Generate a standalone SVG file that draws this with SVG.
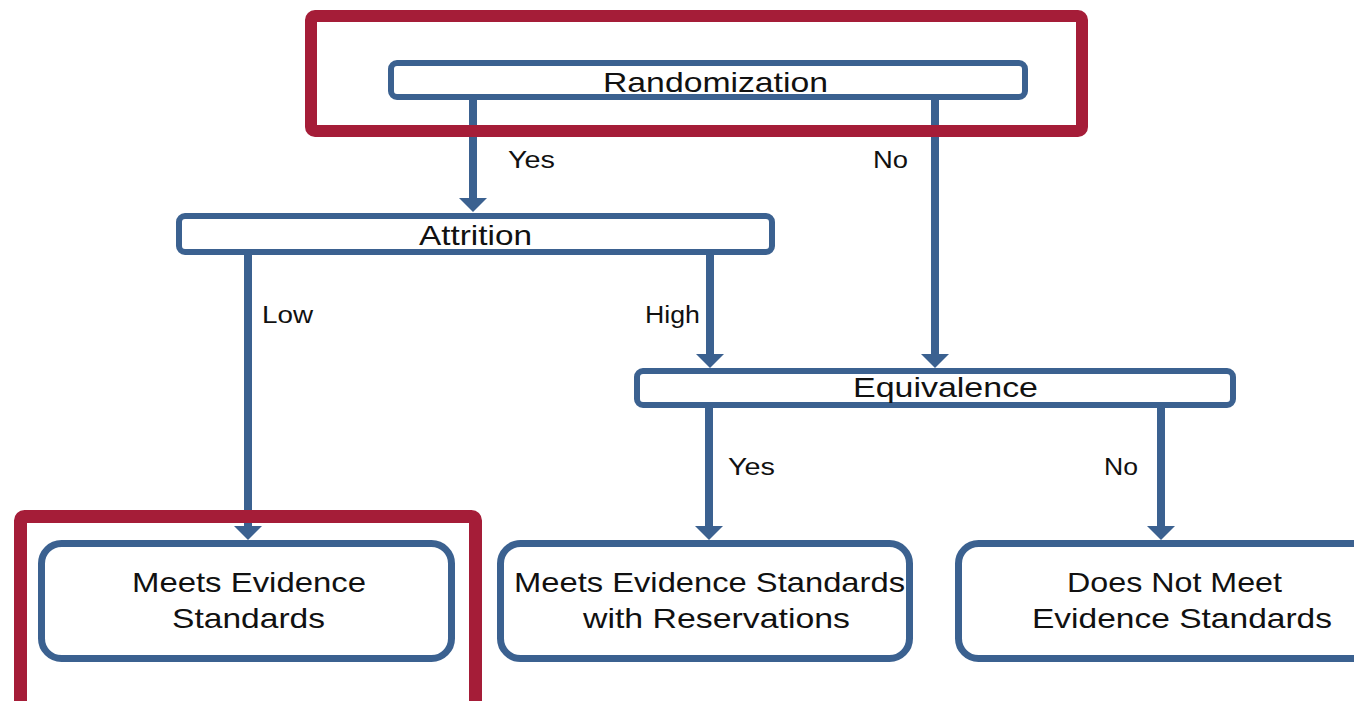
<svg xmlns="http://www.w3.org/2000/svg" width="1354" height="701" viewBox="0 0 1354 701">
  <style>
    .box { fill: #ffffff; stroke: #3B6190; stroke-width: 6; }
    .term { fill: #ffffff; stroke: #3B6190; stroke-width: 7; }
    .hl { fill: none; stroke: #A51D38; stroke-width: 12; }
    .conn { stroke: #3B6190; stroke-width: 8; fill: none; marker-end: url(#arrow); }
    .t { font-family: "Liberation Sans", Arial, sans-serif; fill: #111111; }
    .big { font-size: 28px; }
    .lbl { font-size: 23px; }
  </style>
  <defs>
    <marker id="arrow" viewBox="0 0 14 28" refX="4" refY="14" markerWidth="14" markerHeight="28" markerUnits="userSpaceOnUse" orient="auto">
      <path d="M0,0 L14,14 L0,28 Z" fill="#3B6190"/>
    </marker>
  </defs>
  <rect width="1354" height="701" fill="#ffffff"/>

  <g id="connectors">
    <line class="conn" x1="473" y1="100" x2="473" y2="202"/>
    <line class="conn" x1="935" y1="100" x2="935" y2="358"/>
    <line class="conn" x1="248" y1="255" x2="248" y2="530"/>
    <line class="conn" x1="710" y1="255" x2="710" y2="358"/>
    <line class="conn" x1="709" y1="408" x2="709" y2="530"/>
    <line class="conn" x1="1161" y1="408" x2="1161" y2="530"/>
    <text class="t lbl" x="508" y="168" textLength="47" lengthAdjust="spacingAndGlyphs">Yes</text>
    <text class="t lbl" x="873" y="168" textLength="35" lengthAdjust="spacingAndGlyphs">No</text>
    <text class="t lbl" x="262" y="323" textLength="51" lengthAdjust="spacingAndGlyphs">Low</text>
    <text class="t lbl" x="645" y="323" textLength="55" lengthAdjust="spacingAndGlyphs">High</text>
    <text class="t lbl" x="728" y="475" textLength="47" lengthAdjust="spacingAndGlyphs">Yes</text>
    <text class="t lbl" x="1104" y="475" textLength="34" lengthAdjust="spacingAndGlyphs">No</text>
  </g>

  <g id="randomization">
    <rect class="box" x="391" y="63" width="634" height="34" rx="6"/>
    <text class="t big" x="603" y="92" textLength="225" lengthAdjust="spacingAndGlyphs">Randomization</text>
  </g>

  <g id="attrition">
    <rect class="box" x="179" y="216" width="593" height="36" rx="6"/>
    <text class="t big" x="419" y="245" textLength="113" lengthAdjust="spacingAndGlyphs">Attrition</text>
  </g>

  <g id="equivalence">
    <rect class="box" x="637" y="371" width="596" height="34" rx="6"/>
    <text class="t big" x="853" y="397" textLength="185" lengthAdjust="spacingAndGlyphs">Equivalence</text>
  </g>

  <g id="meets">
    <rect class="term" x="41.5" y="543.5" width="410" height="115" rx="20"/>
    <text class="t big" x="132" y="592" textLength="234" lengthAdjust="spacingAndGlyphs">Meets Evidence</text>
    <text class="t big" x="172" y="628" textLength="153" lengthAdjust="spacingAndGlyphs">Standards</text>
  </g>

  <g id="meets-reservations">
    <rect class="term" x="500.5" y="543.5" width="409" height="115" rx="20"/>
    <text class="t big" x="514" y="592" textLength="391" lengthAdjust="spacingAndGlyphs">Meets Evidence Standards</text>
    <text class="t big" x="583" y="628" textLength="267" lengthAdjust="spacingAndGlyphs">with Reservations</text>
  </g>

  <g id="does-not-meet">
    <rect class="term" x="958.5" y="543.5" width="420" height="115" rx="20"/>
    <text class="t big" x="1067" y="592" textLength="215" lengthAdjust="spacingAndGlyphs">Does Not Meet</text>
    <text class="t big" x="1032" y="628" textLength="300" lengthAdjust="spacingAndGlyphs">Evidence Standards</text>
  </g>

  <g id="highlights">
    <rect class="hl" x="311" y="16" width="771" height="115" rx="4"/>
    <rect class="hl" x="20.5" y="516.5" width="455" height="200" rx="4" style="stroke-width:13"/>
  </g>
</svg>
